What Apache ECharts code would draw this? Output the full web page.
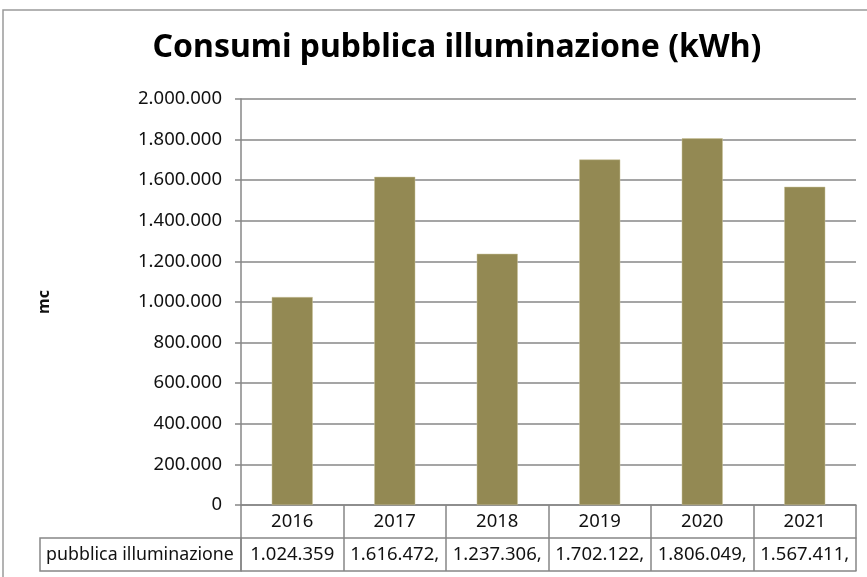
<!DOCTYPE html>
<html>
<head>
<meta charset="utf-8">
<script src="https://cdn.jsdelivr.net/npm/echarts@6/dist/echarts.min.js"></script>
<style>
  html, body { margin: 0; padding: 0; background: #fff; }
  #chart { width: 867px; height: 577px; }
</style>
</head>
<body>
<div id="chart"></div>
<script>
// dati
const years = ['2016', '2017', '2018', '2019', '2020', '2021']
const consumi = [1024359, 1616472, 1237306, 1702122, 1806049, 1567411]
// testo come appare nella tabella dati (troncato)
const tableLabels = ['1.024.359', '1.616.472,', '1.237.306,', '1.702.122,', '1.806.049,', '1.567.411,']
const seriesName = 'pubblica illuminazione'
const yMin = 0, yMax = 2000000, yStep = 200000

const font = 'Noto Sans, sans-serif'
const txt = '#111'
const line = '#878787'
const rowH = 33
const fs = 18.5

function fmt(v) {
  return String(v).replace(/\B(?=(\d{3})+(?!\d))/g, '.')
}

const chart = echarts.init(document.getElementById('chart'))

const tableAxis = (offset, labels, showLabel) => ({
  type: 'category', data: labels, position: 'bottom', offset: offset, gridIndex: 0,
  boundaryGap: true,
  axisLine: { show: true, lineStyle: { color: line, width: 1.5 } },
  axisTick: { show: showLabel, length: rowH, lineStyle: { color: line, width: 1.5 } },
  axisLabel: {
    show: showLabel, interval: 0, margin: rowH / 2, verticalAlign: 'middle',
    color: txt, fontFamily: font, fontSize: fs,
  },
})

chart.setOption({
  animation: false,
  title: {
    text: 'Consumi pubblica illuminazione (kWh)',
    left: 452, top: 27, textAlign: 'center',
    textStyle: { fontFamily: font, fontWeight: 'bold', fontSize: 32, color: '#000' },
  },
  grid: { left: 241, right: 11, top: 99, bottom: 72 },
  xAxis: [
    tableAxis(0, years, true),
    tableAxis(rowH, tableLabels, true),
    tableAxis(rowH * 2, tableLabels, false),
  ],
  yAxis: {
    type: 'value', min: yMin, max: yMax, interval: yStep,
    name: 'mc', nameLocation: 'middle', nameGap: 189, nameRotate: 90,
    nameTextStyle: { fontFamily: font, fontWeight: 'bold', fontSize: 16, color: txt },
    axisLine: { show: true, lineStyle: { color: line, width: 1.5 } },
    axisTick: { show: true, length: 6, lineStyle: { color: line, width: 1.5 } },
    axisLabel: { color: txt, fontFamily: font, fontSize: fs, margin: 19, formatter: fmt },
    splitLine: { lineStyle: { color: line, width: 1.5 } },
  },
  series: [{
    name: seriesName, type: 'bar', xAxisIndex: 0, data: consumi, barWidth: '40%',
    itemStyle: { color: '#938953', borderColor: '#c9c29a', borderWidth: 0.5 },
  }],
  graphic: [
    // cornice del grafico
    { type: 'rect', shape: { x: 3, y: 10, width: 900, height: 620 }, style: { fill: 'none', stroke: '#9a9a9a', lineWidth: 1.5 }, silent: true },
    // cella etichetta della tabella dati
    { type: 'rect', shape: { x: 40, y: 505 + rowH, width: 201, height: rowH }, style: { fill: 'none', stroke: line, lineWidth: 1.5 }, silent: true },
    { type: 'text', x: 140, y: 505 + rowH * 1.5, style: { text: seriesName, fill: txt, font: '17.8px ' + font, align: 'center', verticalAlign: 'middle' }, silent: true },
  ],
})
</script>
</body>
</html>
